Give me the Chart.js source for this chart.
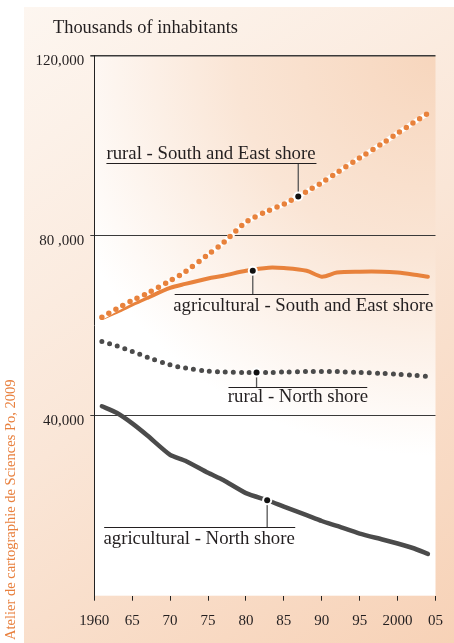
<!DOCTYPE html>
<html>
<head>
<meta charset="utf-8">
<script src="https://cdn.jsdelivr.net/npm/chart.js@4.4.1/dist/chart.umd.min.js"></script>
<style>
  html, body { margin: 0; padding: 0; background: #fff; }
  #chart { display: block; }
</style>
</head>
<body>
<canvas id="chart" width="454" height="643"></canvas>
<script>
// values in inhabitants
const years = [1961, 1963, 1965, 1967, 1970, 1972, 1975, 1977, 1980, 1983, 1985, 1988, 1990, 1992, 1995, 1998, 2000, 2002, 2004];
const ruralSouthEast = [61900, 63800, 65600, 67200, 70000, 72000, 75800, 78400, 83000, 85600, 87000, 89800, 91800, 94000, 97300, 100500, 102800, 105000, 107200];
const agriSouthEast = [61700, 63100, 64700, 66200, 68400, 69300, 70500, 71100, 72200, 72900, 72800, 72200, 70900, 71800, 72000, 72000, 71800, 71400, 70900];
const ruralNorth = [56500, 55500, 54300, 53000, 51300, 50600, 49900, 49700, 49600, 49600, 49700, 49800, 49800, 49800, 49600, 49400, 49200, 49000, 48700];
const agriNorth = [42100, 40600, 38300, 35600, 31300, 30000, 27300, 25700, 22800, 21100, 19800, 17900, 16600, 15500, 13800, 12500, 11600, 10600, 9300];

const xTickLabels = ['1960', '65', '70', '75', '80', '85', '90', '95', '2000', '05'];
const yTickValues = [0, 40000, 80000, 120000];
const yTickLabels = ['', '40,000', '80 ,000', '120,000'];

const ORANGE = '#e8823c';
const GREY = '#4b4b4b';
const INK = '#231f20';
const SERIF = '"Liberation Serif", "DejaVu Serif", serif';

const toPoints = (vals) => vals.map((v, i) => ({ x: years[i], y: v }));

// label callouts: marker on the series, underline, text
const callouts = [
    { text: 'rural - South and East shore', marker: [1986.9, 88700], lineY: 96200, lineX: [1961.6, 1989.3], textX: 1961.6, above: true },
    { text: 'agricultural - South and East shore', marker: [1980.9, 72200], lineY: 66980, lineX: [1970.6, 2004.1], textX: 1970.4, above: false, dy: 16.5 },
    { text: 'rural - North shore', marker: [1981.4, 49600], lineY: 46310, lineX: [1977.7, 1996.0], textX: 1977.6, above: false, dy: 14.5 },
    { text: 'agricultural - North shore', marker: [1982.8, 21200], lineY: 15330, lineX: [1961.3, 1986.5], textX: 1961.2, above: false, dy: 16 }
];

const backdrop = {
    id: 'backdrop',
    beforeDraw(chart) {
        const ctx = chart.ctx;
        const a = chart.chartArea;
        ctx.save();
        const outer = ctx.createLinearGradient(24, 7, 454, 643);
        outer.addColorStop(0, '#fdf6f0');
        outer.addColorStop(0.5, '#fae6d7');
        outer.addColorStop(1, '#f7d2b7');
        ctx.fillStyle = outer;
        ctx.fillRect(24, 7, 430, 636);

        const inner = ctx.createRadialGradient(a.right, a.top, 0, a.right, a.top, 500);
        inner.addColorStop(0, '#f7d6bd');
        inner.addColorStop(0.4, '#fae5d5');
        inner.addColorStop(0.8, '#ffffff');
        inner.addColorStop(1, '#ffffff');
        ctx.fillStyle = inner;
        ctx.fillRect(a.left, a.top, a.right - a.left, a.bottom - a.top);

        ctx.fillStyle = INK;
        ctx.font = '18.4px ' + SERIF;
        ctx.textBaseline = 'alphabetic';
        ctx.fillText('Thousands of inhabitants', 53, 33);

        ctx.translate(14.5, 640);
        ctx.rotate(-Math.PI / 2);
        ctx.fillStyle = '#e8803e';
        ctx.font = '14.5px ' + SERIF;
        ctx.fillText('Atelier de cartographie de Sciences Po, 2009', 0, 0);
        ctx.restore();
    }
};

const labels = {
    id: 'labels',
    afterDatasetsDraw(chart) {
        const ctx = chart.ctx;
        const xs = chart.scales.x, ys = chart.scales.y;
        ctx.save();
        callouts.forEach(c => {
            const mx = xs.getPixelForValue(c.marker[0]);
            const my = ys.getPixelForValue(c.marker[1]);
            const ly = Math.round(ys.getPixelForValue(c.lineY)) + 0.5;

            ctx.strokeStyle = '#555';
            ctx.lineWidth = 1.3;
            ctx.beginPath();
            ctx.moveTo(mx, my);
            ctx.lineTo(mx, ly);
            ctx.stroke();

            ctx.strokeStyle = INK;
            ctx.lineWidth = 1;
            ctx.beginPath();
            ctx.moveTo(xs.getPixelForValue(c.lineX[0]), ly);
            ctx.lineTo(xs.getPixelForValue(c.lineX[1]), ly);
            ctx.stroke();

            ctx.fillStyle = '#ffffff';
            ctx.beginPath();
            ctx.arc(mx, my, 5, 0, Math.PI * 2);
            ctx.fill();
            ctx.fillStyle = '#111';
            ctx.beginPath();
            ctx.arc(mx, my, 3, 0, Math.PI * 2);
            ctx.fill();

            ctx.fillStyle = INK;
            ctx.font = '18.8px ' + SERIF;
            ctx.textBaseline = 'alphabetic';
            const tx = xs.getPixelForValue(c.textX);
            ctx.fillText(c.text, tx, c.above ? ly - 4.5 : ly + c.dy);
        });
        ctx.restore();
    }
};

new Chart(document.getElementById('chart'), {
    type: 'line',
    data: {
        datasets: [
            {
                data: toPoints(ruralSouthEast), borderColor: ORANGE, borderWidth: 5.5,
                borderDash: [0, 8], borderCapStyle: 'round', tension: 0.3, order: 1
            },
            {
                data: toPoints(ruralSouthEast), borderColor: '#ffffff', borderWidth: 5,
                tension: 0.3, order: 2
            },
            {
                data: toPoints(agriSouthEast), borderColor: ORANGE, borderWidth: 4,
                borderCapStyle: 'round', tension: 0.3, order: 3
            },
            {
                data: toPoints(ruralNorth), borderColor: GREY, borderWidth: 5,
                borderDash: [0, 8], borderCapStyle: 'round', tension: 0.3, order: 4
            },
            {
                data: toPoints(agriNorth), borderColor: GREY, borderWidth: 4.5,
                borderCapStyle: 'round', tension: 0.2, order: 5
            }
        ]
    },
    options: {
        responsive: false,
        animation: false,
        layout: { padding: { left: 24, top: 55.7, right: 16.7, bottom: 0 } },
        elements: { point: { radius: 0 } },
        plugins: { legend: { display: false }, tooltip: { enabled: false } },
        scales: {
            x: {
                type: 'linear', min: 1960, max: 2005,
                afterFit: (s) => { s.height = 47.3; },
                border: { display: false },
                grid: { drawOnChartArea: false, drawTicks: true, tickLength: 5, color: '#222' },
                ticks: {
                    stepSize: 5, padding: 11, color: INK, maxRotation: 0,
                    font: { family: SERIF, size: 15 },
                    callback: (v) => xTickLabels[(v - 1960) / 5]
                }
            },
            y: {
                min: 0, max: 120000,
                afterFit: (s) => { s.width = 70.3; },
                border: { display: true, color: '#222', width: 1 },
                grid: {
                    drawTicks: true, tickLength: 4,
                    color: (c) => c.tick && c.tick.value === 0 ? 'rgba(0,0,0,0)' : '#3a3a3a',
                    lineWidth: (c) => c.tick && c.tick.value === 120000 ? 1.6 : 1
                },
                ticks: {
                    stepSize: 40000, padding: 6, labelOffset: 5, color: INK,
                    font: { family: SERIF, size: 15 },
                    callback: (v) => yTickLabels[yTickValues.indexOf(v)]
                }
            }
        }
    },
    plugins: [backdrop, labels]
});
</script>
</body>
</html>
